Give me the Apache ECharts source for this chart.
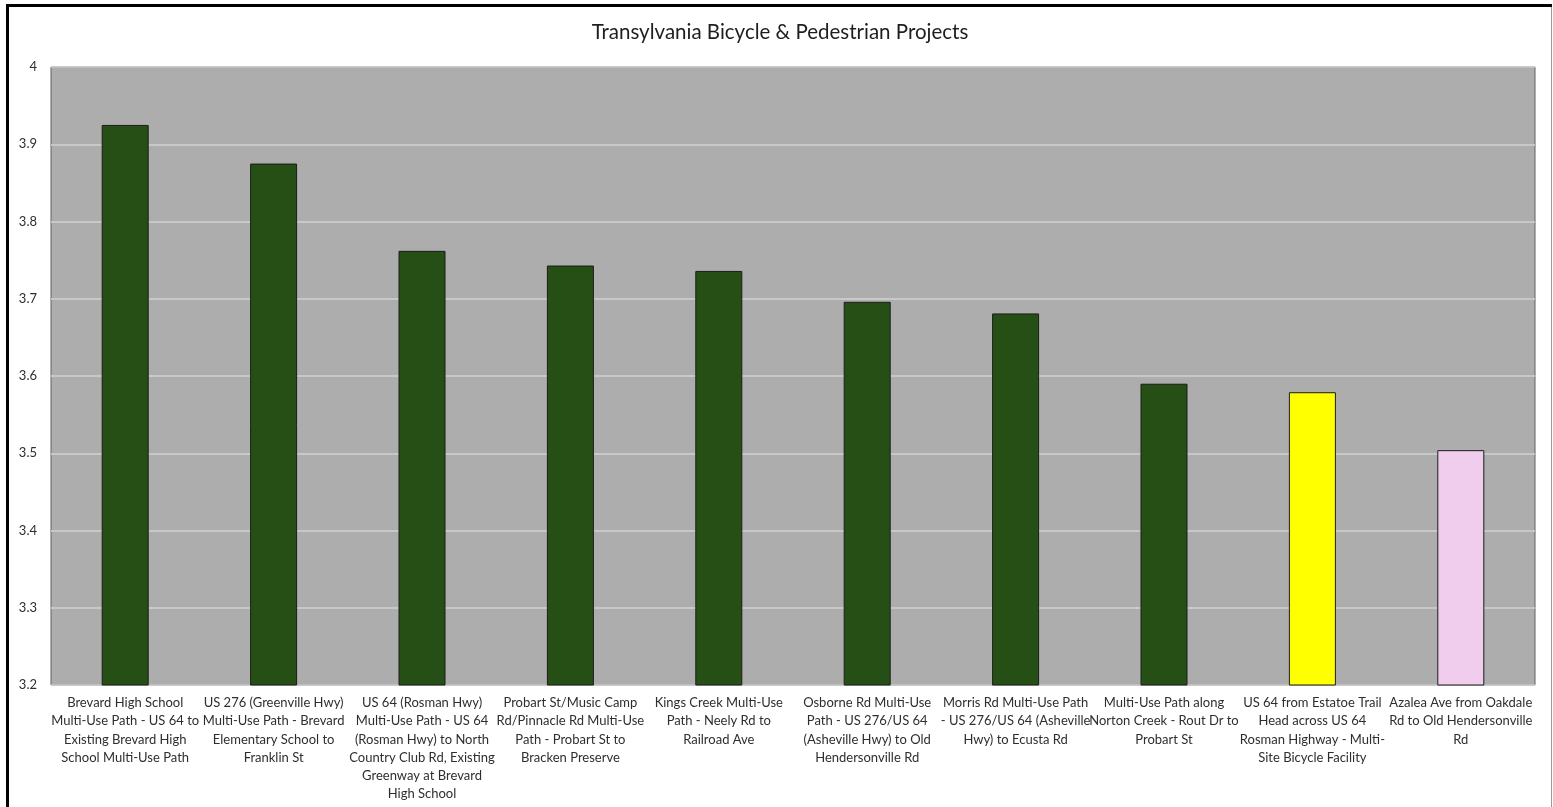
<!DOCTYPE html>
<html>
<head>
<meta charset="utf-8">
<title>Transylvania Bicycle & Pedestrian Projects</title>
<script src="https://cdn.jsdelivr.net/npm/echarts@6/dist/echarts.min.js"></script>
<style>
  html, body { margin: 0; padding: 0; background: #ffffff; }
  #chart { width: 1553px; height: 807px; }
</style>
</head>
<body>
<div id="chart"></div>
<script>
// Project names, already broken into the lines shown under each bar
const projects = [
  'Brevard High School\nMulti-Use Path - US 64 to\nExisting Brevard High\nSchool Multi-Use Path',
  'US 276 (Greenville Hwy)\nMulti-Use Path - Brevard\nElementary School to\nFranklin St',
  'US 64 (Rosman Hwy)\nMulti-Use Path - US 64\n(Rosman Hwy) to North\nCountry Club Rd, Existing\nGreenway at Brevard\nHigh School',
  'Probart St/Music Camp\nRd/Pinnacle Rd Multi-Use\nPath - Probart St to\nBracken Preserve',
  'Kings Creek Multi-Use\nPath - Neely Rd to\nRailroad Ave',
  'Osborne Rd Multi-Use\nPath - US 276/US 64\n(Asheville Hwy) to Old\nHendersonville Rd',
  'Morris Rd Multi-Use Path\n- US 276/US 64 (Asheville\nHwy) to Ecusta Rd',
  'Multi-Use Path along\nNorton Creek - Rout Dr to\nProbart St',
  'US 64 from Estatoe Trail\nHead across US 64\nRosman Highway - Multi-\nSite Bicycle Facility',
  'Azalea Ave from Oakdale\nRd to Old Hendersonville\nRd'
];

// Project scores
const scores = [3.925, 3.875, 3.762, 3.743, 3.736, 3.696, 3.681, 3.590, 3.579, 3.504];

// Value axis range and step
const axisMin = 3.2;
const axisMax = 4;
const axisStep = 0.1;

// Fill per bar
const barFills = ['#264f16', '#264f16', '#264f16', '#264f16', '#264f16',
                  '#264f16', '#264f16', '#264f16', '#ffff00', '#f0cdec'];

const chart = echarts.init(document.getElementById('chart'), null, { renderer: 'canvas' });

chart.setOption({
  backgroundColor: '#ffffff',
  animation: false,
  textStyle: { fontFamily: 'Lato, "Open Sans", sans-serif' },
  title: {
    text: 'Transylvania Bicycle & Pedestrian Projects',
    left: 780,
    textAlign: 'center',
    top: 22,
    padding: 0,
    textStyle: { fontSize: 20.5, fontWeight: 'normal', color: '#1e1e1e', fontFamily: 'Lato, sans-serif' }
  },
  graphic: [
    { type: 'line', silent: true, shape: { x1: 6, y1: 5.5, x2: 1552, y2: 5.5 }, style: { stroke: '#000000', lineWidth: 3 } },
    { type: 'line', silent: true, shape: { x1: 7.5, y1: 4, x2: 7.5, y2: 807 }, style: { stroke: '#000000', lineWidth: 3 } },
    { type: 'line', silent: true, shape: { x1: 1551.5, y1: 7, x2: 1551.5, y2: 807 }, style: { stroke: '#9a9a9a', lineWidth: 1 } }
  ],
  grid: {
    left: 51,
    right: 18,
    top: 67,
    bottom: 122,
    show: true,
    backgroundColor: '#adadad',
    borderColor: '#606060',
    borderWidth: 1,
    containLabel: false,
    outerBoundsMode: 'none'
  },
  xAxis: {
    type: 'category',
    data: projects,
    axisLine: { show: false },
    axisTick: { show: false },
    axisLabel: {
      interval: 0,
      margin: 9,
      fontSize: 13,
      lineHeight: 18.2,
      color: '#2e2e2e',
      align: 'center'
    }
  },
  yAxis: {
    type: 'value',
    min: axisMin,
    max: axisMax,
    interval: axisStep,
    axisLine: { show: false },
    axisTick: { show: false },
    splitLine: { lineStyle: { color: '#d2d2d2', width: 1.5 } },
    axisLabel: {
      margin: 14,
      fontSize: 13,
      color: '#2e2e2e',
      formatter: v => String(Math.round(v * 10) / 10)
    }
  },
  series: [{
    type: 'bar',
    data: scores.map((v, i) => ({ value: v, itemStyle: { color: barFills[i] } })),
    barWidth: 47,
    itemStyle: { borderColor: '#1c1c1c', borderWidth: 1 }
  }]
});
</script>
</body>
</html>
